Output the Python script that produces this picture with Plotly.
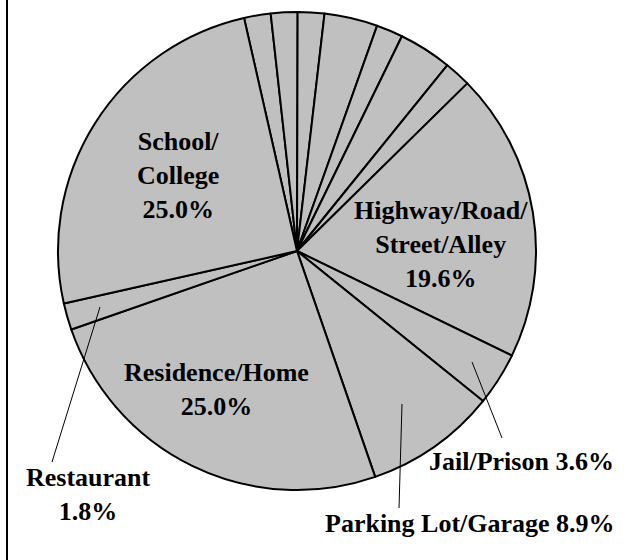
import plotly.graph_objects as go

W, H = 629, 560

# Data (percent of incidents by location), clockwise from the first small slice
labels = ["Other A", "Other B", "Other C", "Other D", "Other E", "Other F", "Other G",
          "Highway/Road/Street/Alley", "Jail/Prison", "Parking Lot/Garage",
          "Residence/Home", "Restaurant", "School/College"]
values = [1.8, 1.8, 1.8, 3.6, 1.8, 3.6, 1.8, 19.6, 3.6, 8.9, 25.0, 1.8, 25.0]

# Label texts
lbl_school = "School/<br>College<br>25.0%"
lbl_highway = "Highway/Road/<br>Street/Alley<br>19.6%"
lbl_residence = "Residence/Home<br>25.0%"
lbl_restaurant = "Restaurant<br>1.8%"
lbl_jail = "Jail/Prison 3.6%"
lbl_parking = "Parking Lot/Garage 8.9%"

cx, cy, r = 297, 251, 239


def px(x):
    return x / W


def py(y):
    return 1 - y / H


fig = go.Figure(go.Pie(
    labels=labels, values=values, sort=False, direction="clockwise",
    rotation=-12.8, textinfo="none", hoverinfo="label+percent",
    marker=dict(colors=["#C0C0C0"] * len(values), line=dict(color="black", width=2)),
    domain=dict(x=[px(cx - r), px(cx + r)], y=[py(cy + r), py(cy - r)]),
    showlegend=False,
))

font = dict(family="Liberation Serif", size=26, color="black")
ann = [
    (lbl_school, 178, 175),
    (lbl_highway, 441, 244),
    (lbl_residence, 216, 389),
    (lbl_restaurant, 88, 494),
    (lbl_jail, 521, 461),
    (lbl_parking, 470, 523),
]
annotations = [dict(text="<b>" + t + "</b>", x=px(x), y=py(y), xref="paper", yref="paper",
                    showarrow=False, font=font, xanchor="center", yanchor="middle",
                    align="center") for t, x, y in ann]

leaders = [((52, 462), (100, 307)), ((502, 438), (472, 362)), ((399, 508), (402, 404))]
shapes = [dict(type="line", xref="paper", yref="paper", x0=px(a[0]), y0=py(a[1]),
               x1=px(b[0]), y1=py(b[1]), line=dict(color="black", width=1))
          for a, b in leaders]
shapes.append(dict(type="line", xref="paper", yref="paper", x0=px(7), y0=0, x1=px(7), y1=1,
                   line=dict(color="black", width=2)))

fig.update_layout(width=W, height=H, margin=dict(l=0, r=0, t=0, b=0),
                  paper_bgcolor="white", plot_bgcolor="white",
                  annotations=annotations, shapes=shapes)
fig.write_html("out.html", config={"displayModeBar": False},
               post_script="document.body.style.margin='0px';")
